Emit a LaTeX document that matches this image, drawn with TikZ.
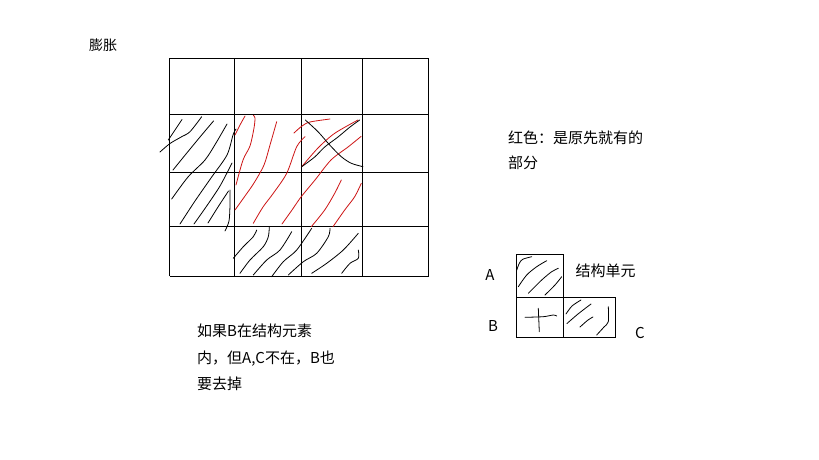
\documentclass[tikz,border=0pt]{standalone}
\usepackage{fontspec}
\setmainfont{Noto Sans CJK SC}
\begin{document}
\begin{tikzpicture}[x=1pt,y=-1pt,
  gridline/.style={line width=1pt,black},
  inkb/.style={line width=0.8pt,black,line cap=round,line join=round},
  inkr/.style={line width=0.8pt,inkred,line cap=round,line join=round},
  lbl/.style={inner sep=0pt,anchor=base west,font=\fontsize{15}{18}\selectfont},
  letter/.style={inner sep=0pt,anchor=base,font=\fontsize{15}{18}\selectfont}]
\definecolor{inkred}{RGB}{205,20,20}
\useasboundingbox[fill=white] (0,0) rectangle (819,460);
% grid
\foreach \x in {169.5,234.5,301.5,362.5,428.5}
  \draw[gridline] (\x,58.5) -- (\x,276);
\foreach \y in {58.5,114.5,172.5,226,276}
  \draw[gridline] (169.5,\y) -- (428.5,\y);
% black hatching, left column
\draw[inkb] plot[smooth] coordinates {(160,152) (170,143.5) (181.7,136.7) (190,131.7) (201.7,116.7)};
\draw[inkb] plot[smooth] coordinates {(168.3,140) (175,130) (182,119.5)};
\draw[inkb] plot[smooth] coordinates {(173,170) (186,154) (200,137) (213.5,121)};
\draw[inkb] plot[smooth] coordinates {(171.7,199) (188,177) (205,160) (216,143) (227,124)};
\draw[inkb] plot[smooth] coordinates {(180,224) (195,201) (211.7,177) (227,155) (233,135) (236,129)};
\draw[inkb] plot[smooth] coordinates {(194,224) (206,207) (220,186) (232,163)};
\draw[inkb] plot[smooth] coordinates {(208,223) (218,207) (228.5,191)};
\draw[inkb] plot[smooth] coordinates {(225,231) (229,221) (230,205) (230,190)};
% red hatching
\draw[inkr] plot[smooth] coordinates {(235,135) (240,125) (245,116)};
\draw[inkr] plot[smooth] coordinates {(236,185) (243,160) (250,146) (254,128) (255,118) (253.5,115.5)};
\draw[inkr] plot[smooth] coordinates {(235,210) (245,196) (254,183) (264,165) (270,145) (276.7,121.7)};
\draw[inkr] plot[smooth] coordinates {(253.3,223.3) (263,207) (273.3,193.3) (286.7,173.3) (296.7,146.7) (305,136.7)};
\draw[inkr] plot[smooth] coordinates {(294,133) (302,126) (310,122) (330,119)};
\draw[inkr] plot[smooth] coordinates {(282,224) (292,210) (301,197) (315,180) (331,160) (348,147) (361,136.5)};
\draw[inkr] plot[smooth] coordinates {(301.7,166.7) (318,148) (334.7,133.3) (358,120)};
\draw[inkr] plot[smooth] coordinates {(311.3,226.7) (324.7,210) (334.7,193.3) (341.3,180)};
\draw[inkr] plot[smooth] coordinates {(333,226.7) (344.7,210) (354.7,196.7) (361.3,183.3)};
% black strokes over red cell
\draw[inkb] plot[smooth] coordinates {(305.3,120) (318,131.7) (329.7,145) (341.3,156.7) (351.3,163.3) (363,166.7)};
\draw[inkb] plot[smooth] coordinates {(301.3,167) (314.7,157) (324.7,147) (338,137) (350,127) (359.7,120)};
% bottom row hatching
\draw[inkb] plot[smooth] coordinates {(233.3,258.3) (243.3,246.7) (253.3,236.7) (256.7,230)};
\draw[inkb] plot[smooth] coordinates {(240,273.3) (250,260) (263.3,246.7) (268.3,236.7) (269.3,226.7)};
\draw[inkb] plot[smooth] coordinates {(253.3,275) (266.7,260) (280,250) (291.7,231.7)};
\draw[inkb] plot[smooth] coordinates {(271.7,276.7) (283.3,261.7) (296.7,250) (311.7,228.3)};
\draw[inkb] plot[smooth] coordinates {(288.3,275) (303.3,261.7) (316.7,253.3) (328.3,236.7) (330,228.3)};
\draw[inkb] plot[smooth] coordinates {(311.7,273.3) (326.7,263.3) (343.3,250) (358.3,233.3)};
\draw[inkb] plot[smooth] coordinates {(341.7,273.3) (350,263.3) (358.3,258.3) (358.3,250)};
% structure element
\draw[gridline] (516,254) rectangle (563,297.5);
\draw[gridline] (516,297.5) rectangle (563,337);
\draw[gridline] (563,297.5) rectangle (615.5,337);
\draw[line width=1.8pt] (516.5,297.5) -- (516.5,337.5);
\draw[inkb] plot[smooth] coordinates {(516.5,270.7) (519.3,263.3) (522.7,259.3) (531.7,256.7)};
\draw[inkb] plot[smooth] coordinates {(518.3,286.7) (526.7,275) (536.7,266.7) (546.7,260.7)};
\draw[inkb] plot[smooth] coordinates {(528.3,293.3) (541.7,280) (551.7,271.7) (558.3,268.3)};
\draw[inkb] plot[smooth] coordinates {(545,295) (555,285) (561.7,276.7)};
\draw[inkb] plot[smooth] coordinates {(525,317.3) (543.3,316.7) (553.3,315) (556.7,316)};
\draw[inkb] plot[smooth] coordinates {(538.3,308.3) (538.8,320) (539.3,331.7)};
\draw[inkb] plot[smooth] coordinates {(566,314) (572,306) (581,300)};
\draw[inkb] plot[smooth] coordinates {(567,323.5) (578,314) (591,304)};
\draw[inkb] plot[smooth] coordinates {(580,327) (588,320) (593,317)};
\draw[inkb] plot[smooth] coordinates {(596.7,335) (604,327) (608.3,321.7) (608.3,306.7)};
% texts
\node[lbl,font=\fontsize{14}{17}\selectfont] (t1) at (89,51) {膨胀};
\node[lbl] (t2) at (508,143.4) {红色：是原先就有的};
\node[lbl] (t3) at (508,168.5) {部分};
\node[lbl] (t4) at (575.5,276.4) {结构单元};
\node[lbl] (t5) at (197,336.7) {如果B在结构元素};
\node[lbl] (t6) at (197,363.4) {内，但A,C不在，B也};
\node[lbl] (t7) at (197,389.5) {要去掉};
\node[letter] (la) at (490,280.5) {A};
\node[letter] (lb) at (493,331.5) {B};
\node[letter] (lc) at (640,338.5) {C};
\end{tikzpicture}
\end{document}
